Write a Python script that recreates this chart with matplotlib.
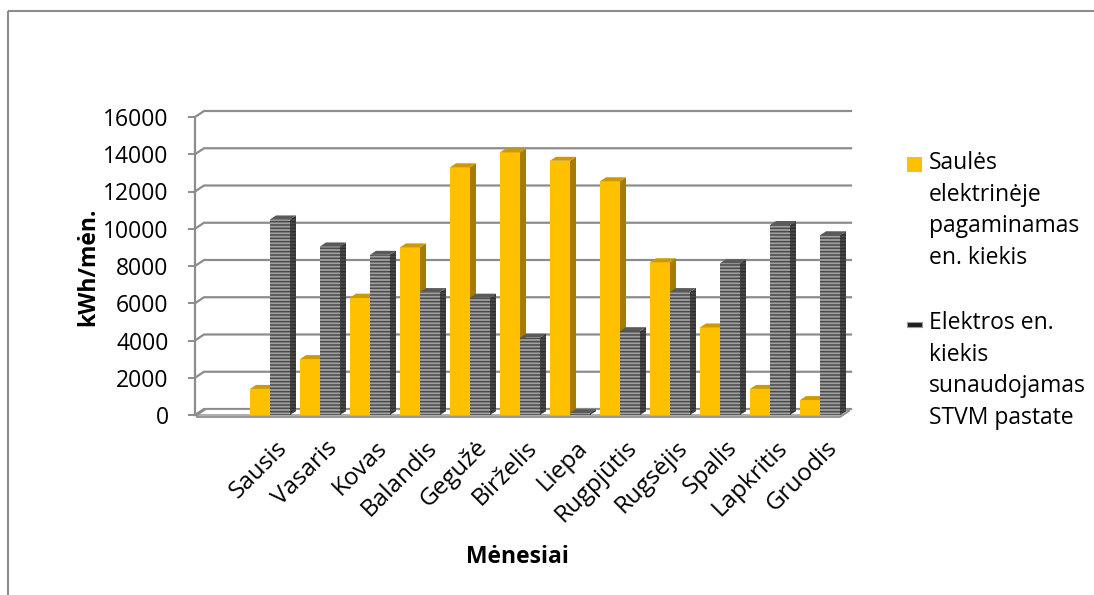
import matplotlib
matplotlib.use("Agg")
import matplotlib.pyplot as plt
from matplotlib.patches import Rectangle, Polygon
from matplotlib.transforms import ScaledTranslation

# ---- data -------------------------------------------------------------
months = ["Sausis", "Vasaris", "Kovas", "Balandis", "Gegužė", "Birželis",
          "Liepa", "Rugpjūtis", "Rugsėjis", "Spalis", "Lapkritis", "Gruodis"]
solar_kwh = [1400, 3000, 6300, 9000, 13300, 14100, 13650, 12550, 8200, 4700, 1400, 800]
consumed_kwh = [10500, 9050, 8600, 6600, 6300, 4150, 100, 4500, 6600, 8150, 10200, 9650]
y_ticks = [0, 2000, 4000, 6000, 8000, 10000, 12000, 14000, 16000]

solar_label = "Saulės\nelektrinėje\npagaminamas\nen. kiekis"
consumed_label = "Elektros en.\nkiekis\nsunaudojamas\nSTVM pastate"

# ---- style ------------------------------------------------------------
plt.rcParams["font.family"] = ["Open Sans", "DejaVu Sans"]
plt.rcParams["hatch.linewidth"] = 1.1
FS = 16.5
GRID = "#8c8c8c"
Y_FRONT, Y_SIDE, Y_TOP = "#FFC000", "#A67C00", "#CC9900"
G_FRONT, G_HATCH, G_SIDE, G_TOP = "#a0a0a0", "#4a4a4a", "#4a4a4a", "#5a5a5a"

W, H = 1094, 595
fig = plt.figure(figsize=(W / 100, H / 100), dpi=100)

# overlay in pixel units for frame, legend and titles
ov = fig.add_axes([0, 0, 1, 1])
ov.set_xlim(0, W)
ov.set_ylim(H, 0)
ov.axis("off")
ov.add_patch(Rectangle((8, 11), 1200, 700, fill=False, edgecolor=GRID, lw=1.5))

# main axes
L, R, B, T = 195, 855, 415, 117
ax = fig.add_axes([L / W, 1 - B / H, (R - L) / W, (B - T) / H])
ax.patch.set_visible(False)
XMIN, XMAX, YMAX = -1.5, 11.7, 16000
ax.set_xlim(XMIN, XMAX)
ax.set_ylim(0, YMAX)
px_x = (R - L) / (XMAX - XMIN)
px_y = (B - T) / YMAX

# depth offsets (pixels -> data)
wdx, wdy = 9 / px_x, 6 / px_y
bdx, bdy = 6 / px_x, 4 / px_y
floor_l, floor_r = -1.46, 11.4
bw = 0.4

# back wall gridlines and left wall diagonals
for v in y_ticks:
    ax.plot([XMIN, XMIN + wdx, XMAX - 0.08], [v, v + wdy, v + wdy],
            color=GRID, lw=1.6, clip_on=False, zorder=1, solid_joinstyle="miter")

# floor slab (thin plate with a visible front edge)
thick = 2 / px_y
ax.add_patch(Polygon([(floor_l, -thick), (floor_r, -thick), (floor_r + wdx, wdy - thick),
                      (floor_r + wdx, wdy), (floor_l + wdx, wdy), (floor_l, 0)],
                     closed=True, facecolor="white", edgecolor=GRID, lw=1.3,
                     zorder=2, clip_on=False))
ax.plot([floor_l, floor_r, floor_r + wdx], [0, 0, wdy], color=GRID, lw=1.0,
        zorder=2, clip_on=False)


def bar3d(x0, v, front, side, top, hatch=None, hcol=None):
    x1 = x0 + bw
    kw = dict(zorder=3, clip_on=False)
    if hatch:
        ax.add_patch(Rectangle((x0, 0), bw, v, facecolor=front, edgecolor=hcol,
                               hatch=hatch, lw=0, **kw))
        ax.add_patch(Polygon([(x1, 0), (x1 + bdx, bdy), (x1 + bdx, v + bdy), (x1, v)],
                             facecolor=side, edgecolor="#303030", hatch=hatch, lw=0, **kw))
    else:
        ax.add_patch(Rectangle((x0, 0), bw, v, facecolor=front, lw=0, **kw))
        ax.add_patch(Polygon([(x1, 0), (x1 + bdx, bdy), (x1 + bdx, v + bdy), (x1, v)],
                             facecolor=side, lw=0, **kw))
    ax.add_patch(Polygon([(x0, v), (x1, v), (x1 + bdx, v + bdy), (x0 + bdx, v + bdy)],
                         facecolor=top, lw=0, **kw))


for i, (s, c) in enumerate(zip(solar_kwh, consumed_kwh)):
    bar3d(i - bw, s, Y_FRONT, Y_SIDE, Y_TOP)
    bar3d(i, c, G_FRONT, G_SIDE, G_TOP, hatch="-----", hcol=G_HATCH)

# axes decoration
for sp in ["top", "right", "bottom"]:
    ax.spines[sp].set_visible(False)
ax.spines["left"].set_color(GRID)
ax.spines["left"].set_linewidth(1.6)
ax.set_yticks(y_ticks)
ax.set_yticklabels([str(t) for t in y_ticks], fontsize=FS)
ax.tick_params(axis="y", length=5, width=1.4, color=GRID, pad=14)

ax.set_xticks(range(len(months)))
ax.set_xticklabels(months, fontsize=17.5, rotation=45, ha="right", va="center",
                   rotation_mode="anchor")
ax.tick_params(axis="x", length=0, pad=21)
shift = ScaledTranslation(14 / 100, 0, fig.dpi_scale_trans)
for lab in ax.get_xticklabels():
    lab.set_transform(lab.get_transform() + shift)

# axis titles
ov.text(517, 557, "Mėnesiai", fontsize=FS, fontweight="bold", ha="center", va="center")
ov.text(88, 267, "kWh/mėn.", fontsize=FS, fontweight="bold", rotation=90,
        ha="center", va="center")

# legend
ov.add_patch(Rectangle((907, 157), 15, 15, facecolor=Y_FRONT, lw=0))
ov.text(929, 151, solar_label, fontsize=FS, ha="left", va="top", linespacing=1.43)
ov.add_patch(Rectangle((907, 322), 15, 5, facecolor="#1e1e1e", edgecolor="#9a9a9a", lw=0.8))
ov.text(929, 311, consumed_label, fontsize=FS, ha="left", va="top", linespacing=1.43)

fig.savefig("out.png", dpi=100)
